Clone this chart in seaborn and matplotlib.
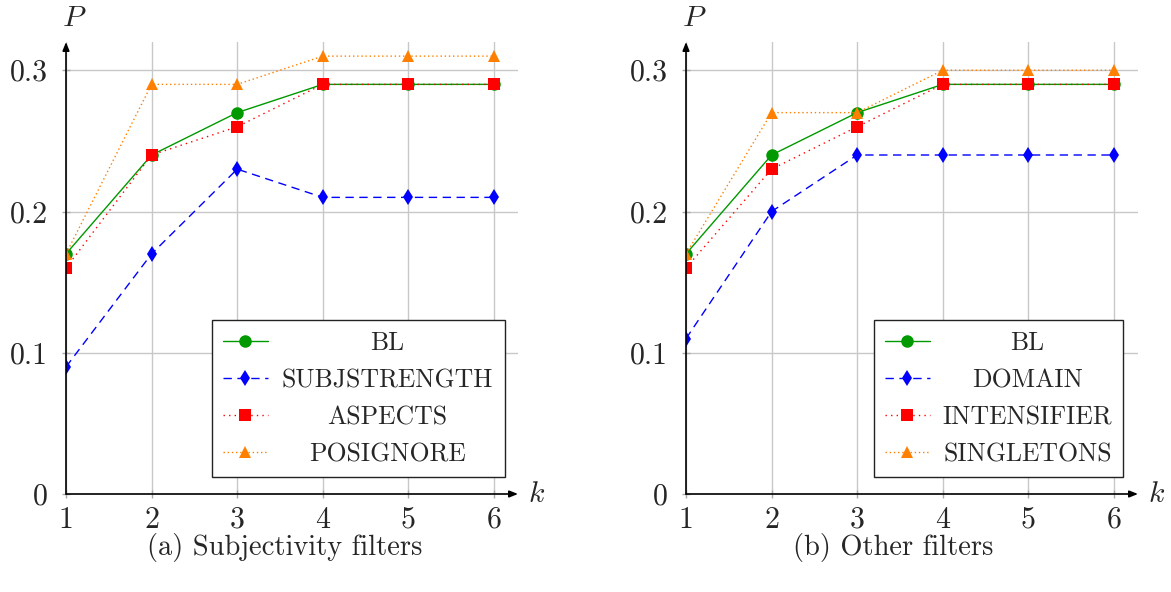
import matplotlib
matplotlib.use("Agg")
import matplotlib.pyplot as plt
import seaborn as sns
import pandas as pd

k = [1, 2, 3, 4, 5, 6]

# panel (a)
a_labels = ["BL", "SUBJSTRENGTH", "ASPECTS", "POSIGNORE"]
a_bl = [0.17, 0.24, 0.27, 0.29, 0.29, 0.29]
a_subj = [0.09, 0.17, 0.23, 0.21, 0.21, 0.21]
a_aspects = [0.16, 0.24, 0.26, 0.29, 0.29, 0.29]
a_posignore = [0.17, 0.29, 0.29, 0.31, 0.31, 0.31]

# panel (b)
b_labels = ["BL", "DOMAIN", "INTENSIFIER", "SINGLETONS"]
b_bl = [0.17, 0.24, 0.27, 0.29, 0.29, 0.29]
b_domain = [0.11, 0.20, 0.24, 0.24, 0.24, 0.24]
b_intens = [0.16, 0.23, 0.26, 0.29, 0.29, 0.29]
b_single = [0.17, 0.27, 0.27, 0.30, 0.30, 0.30]

yticks = [0, 0.1, 0.2, 0.3]
ytick_labels = ["0", "0.1", "0.2", "0.3"]
captions = ["(a) Subjectivity filters", "(b) Other filters"]

sns.set_style("white")
plt.rcParams["font.family"] = ["cmr10", "DejaVu Serif"]
plt.rcParams["mathtext.fontset"] = "cm"
plt.rcParams["axes.unicode_minus"] = False

styles = [
    dict(color="#009900", marker="o", linestyle="-", markersize=9, lw=1.0),
    dict(color="#0000ff", marker="d", linestyle=(0, (6, 4)), markersize=8.5, lw=1.0),
    dict(color="#ff0000", marker="s", linestyle=(0, (1, 3)), markersize=9, lw=1.0),
    dict(color="#ff8000", marker="^", linestyle=(0, (1, 2)), markersize=9, lw=1.0),
]

W, H = 1171, 592
fig = plt.figure(figsize=(W / 100, H / 100), dpi=100)
renderer = fig.canvas.get_renderer()

panels = [
    (66, a_labels, [a_bl, a_subj, a_aspects, a_posignore], captions[0], 285),
    (686, b_labels, [b_bl, b_domain, b_intens, b_single], captions[1], 893),
]
# legend right/bottom edges in pixels, and widths
leg_specs = [(505, 477, 295), (1123, 477, 251)]

FS = 18.5
FS_PX = FS * 100 / 72
BP = 0.42
HL = 45 / FS_PX

for (left_px, labels, series, cap, cap_x), (lr, lb, lw_px) in zip(panels, leg_specs):
    ax = fig.add_axes([left_px / W, (H - 494) / H, 452 / W, 452 / H])
    for lab, vals, st in zip(labels, series, styles):
        df = pd.DataFrame({"k": k, "P": vals})
        st2 = dict(st)
        ms = st2.pop("markersize")
        sns.lineplot(data=df, x="k", y="P", ax=ax, label=lab,
                     markersize=ms, markeredgewidth=0, **st2)
    ax.set_xlim(1, 6 + 24 / 85.6)
    ax.set_ylim(0, 0.32)
    ax.set_xticks(k)
    ax.set_xticklabels([str(v) for v in k])
    ax.set_yticks(yticks)
    ax.set_yticklabels(ytick_labels)
    ax.grid(True, color="#c8c8c8", lw=1.0)
    ax.set_axisbelow(True)
    for s in ax.spines.values():
        s.set_visible(False)
    ax.tick_params(axis="both", direction="inout", length=6, width=1,
                   color="#aaaaaa", labelsize=21.5, left=True, bottom=True)
    ax.tick_params(axis="y", pad=10)
    ax.tick_params(axis="x", pad=6)
    ax.set_xlabel("")
    ax.set_ylabel("")
    ax.annotate("", xy=(1.0, 0), xytext=(0, 0), xycoords="axes fraction",
                arrowprops=dict(arrowstyle="-|>,head_length=0.5,head_width=0.2",
                                color="black", lw=1.2, shrinkA=0, shrinkB=0))
    ax.annotate("", xy=(0, 1.0), xytext=(0, 0), xycoords="axes fraction",
                arrowprops=dict(arrowstyle="-|>,head_length=0.5,head_width=0.2",
                                color="black", lw=1.2, shrinkA=0, shrinkB=0))
    ax.text(0.018, 1.053, "$P$", transform=ax.transAxes, fontsize=21.5,
            ha="center", va="center")
    ax.text(1.042, 0.0, "$k$", transform=ax.transAxes, fontsize=21.5,
            ha="center", va="center")

    # measure label widths to size the legend box like the reference
    widths = []
    for lab in labels:
        t = fig.text(0, 0, lab, fontsize=FS)
        widths.append(t.get_window_extent(renderer).width)
        t.remove()
    wmax = max(widths)
    base_pad = 0.5
    natural = 2 * BP * FS_PX + HL * FS_PX + base_pad * FS_PX + wmax + 2
    extra = max(0.0, lw_px - natural)
    htp = base_pad + extra / FS_PX

    leg = ax.legend(loc="lower right",
                    bbox_to_anchor=((lr - left_px) / 452, (494 - lb) / 452),
                    borderaxespad=0,
                    fontsize=FS, frameon=True, fancybox=False,
                    edgecolor="#222222", framealpha=1, handlelength=HL,
                    borderpad=BP, labelspacing=0.52, handletextpad=htp)
    leg.get_frame().set_linewidth(1.0)
    # center each label in the text column (pgfplots centres legend text)
    for t, w in zip(leg.get_texts(), widths):
        t.set_position((-extra / 2 + (wmax - w) / 2, 0))

    fig.text(cap_x / W, 1 - 547 / H, cap, fontsize=20.5, ha="center", va="center")

fig.savefig("out.png", dpi=100)
